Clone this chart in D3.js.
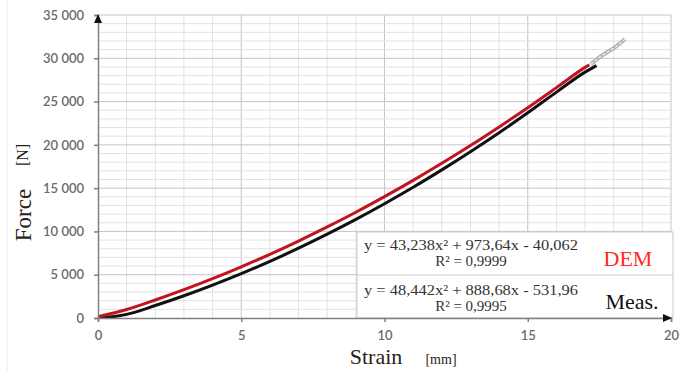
<!DOCTYPE html>
<html>
<head>
<meta charset="utf-8">
<script src="https://cdn.jsdelivr.net/npm/d3@7"></script>
<style>
  body { margin: 0; background: #fff; }
  svg { display: block; }
</style>
</head>
<body>
<svg id="chart"></svg>
<script>
// values
const demStrain = [0, 1, 2, 3, 4, 5, 6, 7, 8, 9, 10, 11, 12, 13, 14, 15, 16, 17, 17.15];
const demForce = [150, 980, 2080, 3270, 4550, 5910, 7360, 8890, 10520, 12220, 14020, 15900, 17870, 19920, 22070, 24290, 26610, 28950, 29250];
const measStrain = [0, 0.5, 1, 2, 3, 4, 5, 6, 7, 8, 9, 10, 11, 12, 13, 14, 15, 16, 17, 17.4];
const measForce = [60, 150, 420, 1440, 2570, 3800, 5120, 6540, 8060, 9680, 11390, 13200, 15100, 17110, 19210, 21400, 23700, 26090, 28400, 29150];
const trendStrain = [17.2, 17.6, 18.0, 18.4];
const trendForce = [29300, 30350, 31160, 32220];
const xTicks = [0, 5, 10, 15, 20];
const yTicks = [0, 5000, 10000, 15000, 20000, 25000, 30000, 35000];
const equations = [
  ["y = 43,238x² + 973,64x - 40,062", "R² = 0,9999"],
  ["y = 48,442x² + 888,68x - 531,96", "R² = 0,9995"]
];
const seriesNames = ["DEM", "Meas."];

const width = 689, height = 371;
const svg = d3.select('#chart').attr('width', width).attr('height', height);

const x = d3.scaleLinear().domain([0, 20]).range([98, 671]);
const y = d3.scaleLinear().domain([0, 35000]).range([318, 15]);

// faint outer frame line
svg.append('line').attr('x1', 7).attr('x2', 7).attr('y1', 0).attr('y2', height)
  .attr('stroke', '#ececec');

// grid
const grid = svg.append('g');
grid.selectAll('.vx').data(d3.range(1, 21)).enter().append('line')
  .attr('x1', d => x(d)).attr('x2', d => x(d))
  .attr('y1', y(0)).attr('y2', y(35000))
  .attr('stroke', d => d % 5 === 0 ? '#c6c6c6' : '#e2e2e2')
  .attr('stroke-width', 1);
grid.selectAll('.hy').data(d3.range(1000, 35001, 1000)).enter().append('line')
  .attr('x1', x(0)).attr('x2', x(20))
  .attr('y1', d => y(d)).attr('y2', d => y(d))
  .attr('stroke', d => d % 5000 === 0 ? '#c6c6c6' : '#e2e2e2')
  .attr('stroke-width', 1);

// trendline extension (grey)
const line = d3.line().x(d => x(d[0])).y(d => y(d[1])).curve(d3.curveMonotoneX);
const trend = d3.zip(trendStrain, trendForce);
svg.append('path').attr('d', line(trend)).attr('fill', 'none')
  .attr('stroke', '#b4b4b4').attr('stroke-width', 4);
svg.append('path').attr('d', line(trend)).attr('fill', 'none')
  .attr('stroke', '#f4f4f4').attr('stroke-width', 1.2).attr('stroke-dasharray', '3,2');

// curves
svg.append('path').attr('d', line(d3.zip(measStrain, measForce))).attr('fill', 'none')
  .attr('stroke', '#111').attr('stroke-width', 3);
svg.append('path').attr('d', line(d3.zip(demStrain, demForce))).attr('fill', 'none')
  .attr('stroke', '#c0141e').attr('stroke-width', 3);

// equation box
const box = svg.append('g');
box.append('rect').attr('x', 357).attr('y', 232).attr('width', 316).attr('height', 86)
  .attr('fill', '#fff').attr('stroke', '#c8c8c8');
box.append('line').attr('x1', 357).attr('x2', 673).attr('y1', 275).attr('y2', 275)
  .attr('stroke', '#c8c8c8');
equations.forEach((eq, i) => {
  const base = 250 + i * 45;
  box.append('text').attr('x', 471).attr('y', base).attr('text-anchor', 'middle')
    .attr('font-family', 'Liberation Serif, serif').attr('font-size', 15).attr('fill', '#333')
    .attr('textLength', 214).attr('lengthAdjust', 'spacingAndGlyphs')
    .text(eq[0]);
  box.append('text').attr('x', 471).attr('y', base + 16).attr('text-anchor', 'middle')
    .attr('font-family', 'Liberation Serif, serif').attr('font-size', 15).attr('fill', '#333')
    .text(eq[1]);
});
box.append('text').attr('x', 628).attr('y', 266).attr('text-anchor', 'middle')
  .attr('font-family', 'Liberation Serif, serif').attr('font-size', 22).attr('fill', '#ff2a2a')
  .text(seriesNames[0]);
box.append('text').attr('x', 632).attr('y', 309).attr('text-anchor', 'middle')
  .attr('font-family', 'Liberation Serif, serif').attr('font-size', 22).attr('fill', '#111')
  .text(seriesNames[1]);

// axes
const fmt = d => d3.format(',')(d).replace(/,/g, ' ');
const yAxis = svg.append('g').attr('transform', `translate(${x(0)},0)`)
  .call(d3.axisLeft(y).tickValues(yTicks).tickSize(4).tickPadding(10).tickFormat(fmt));
const xAxis = svg.append('g').attr('transform', `translate(0,${y(0)})`)
  .call(d3.axisBottom(x).tickValues(xTicks).tickSize(4).tickPadding(9).tickFormat(d3.format('d')));
[xAxis, yAxis].forEach(a => {
  a.select('.domain').attr('stroke', '#808080').attr('stroke-width', 1.5);
  a.selectAll('.tick line').attr('stroke', '#808080').attr('stroke-width', 1.5);
  a.selectAll('.tick text').attr('fill', '#6a6a6a').attr('font-family', 'Lato, sans-serif')
    .attr('font-size', 13).attr('font-weight', 600);
});
// arrow heads
svg.append('path')
  .attr('d', `M${x(0) - 4},${y(35000) + 8}L${x(0)},${y(35000) - 1}L${x(0) + 4},${y(35000) + 8}Z`)
  .attr('fill', '#111');
svg.append('path')
  .attr('d', `M${x(20) - 8},${y(0) - 4}L${x(20) + 1},${y(0)}L${x(20) - 8},${y(0) + 4}Z`)
  .attr('fill', '#111');

// axis titles
svg.append('text').attr('transform', 'translate(31,215) rotate(-90)')
  .attr('text-anchor', 'middle').attr('font-family', 'Liberation Serif, serif')
  .attr('font-size', 23).attr('fill', '#2a2218').text('Force');
svg.append('text').attr('transform', 'translate(28,155) rotate(-90)')
  .attr('text-anchor', 'middle').attr('font-family', 'Liberation Serif, serif')
  .attr('font-size', 16).attr('fill', '#2a2218').text('[N]');
svg.append('text').attr('x', 376).attr('y', 364).attr('text-anchor', 'middle')
  .attr('font-family', 'Liberation Serif, serif').attr('font-size', 22).attr('fill', '#2a2218')
  .text('Strain');
svg.append('text').attr('x', 441).attr('y', 364).attr('text-anchor', 'middle')
  .attr('font-family', 'Liberation Serif, serif').attr('font-size', 14).attr('fill', '#2a2218')
  .text('[mm]');
</script>
</body>
</html>
